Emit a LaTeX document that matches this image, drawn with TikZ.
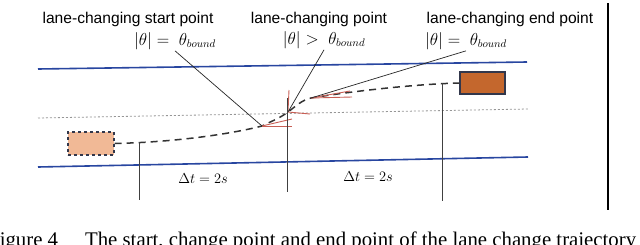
\documentclass[tikz,border=0pt]{standalone}
\usepackage{amsmath}
\usepackage{xcolor}
\usepackage{fontspec}
\usepackage{tikz}
\usetikzlibrary{arrows.meta, positioning}
\newfontfamily\labelfont{Liberation Sans}
\newfontfamily\capfont{Liberation Serif}
\definecolor{roadBlue}{RGB}{40,70,160}
\definecolor{carOrange}{RGB}{196,103,45}
\definecolor{carPeach}{RGB}{241,185,150}
\definecolor{carBorder}{RGB}{50,55,75}
\definecolor{tangentRed}{RGB}{200,95,85}
\definecolor{markGray}{RGB}{150,150,150}

\begin{document}
\begin{tikzpicture}[x=1pt, y=-1pt,
titlelabel/.style={inner sep=1pt, font=\labelfont\fontsize{15.6}{17}\selectfont},
mathlabel/.style={inner sep=1pt, font=\fontsize{16}{18}\selectfont},
dtlabel/.style={inner sep=1pt, font=\fontsize{13.5}{15}\selectfont},
road/.style={draw=roadBlue, line width=1.6pt},
lanemark/.style={draw=markGray, line width=0.8pt, dash pattern=on 2pt off 2pt},
car/.style={rectangle, draw=carBorder, line width=1.4pt, inner sep=0pt},
leader/.style={draw=black!85, line width=0.7pt},
tangent/.style={draw=tangentRed, line width=0.9pt},
trajectory/.style={draw=black!80, line width=1.5pt, dash pattern=on 7pt off 5pt},
tick/.style={draw=black!75, line width=0.7pt}]

\path[use as bounding box, fill=white] (0,0) rectangle (640,244);

% road and lane marking
\draw[road] (38,69) -- (527,62);
\draw[road] (38,167) -- (528,157);
\draw[lanemark] (38,118) -- (528,109);

% vehicles
\node[car, fill=carPeach, dashed, minimum width=46pt, minimum height=23pt] (leftcar) at (91,143.5) {};
\node[car, fill=carOrange, minimum width=45pt, minimum height=22pt] (rightcar) at (482.5,83) {};

% key points of the trajectory
\coordinate (startpt) at (262,126);
\coordinate (changept) at (288,112);
\coordinate (endpt) at (311,98);

\draw[trajectory] (leftcar.east) .. controls (180,142) and (235,133) .. (startpt)
    .. controls (272,121) and (280,118) .. (changept)
    .. controls (296,106) and (302,100) .. (endpt)
    .. controls (360,90) and (420,84) .. (rightcar.west);

% tangent directions
\draw[tangent] (startpt) -- ++(30,-7);
\draw[tangent] (startpt) -- ++(30,0);
\draw[tangent] (changept) -- ++(22,2);
\draw[tangent] (changept) -- ++(1,-22);
\draw[tangent] (endpt) -- ++(41,-1);
\draw[tangent] (endpt) -- ++(39,-7);

% labels
\node[titlelabel] (startlbl) at (128,19) {lane-changing start point};
\node[titlelabel] (changelbl) at (319,19) {lane-changing point};
\node[titlelabel] (endlbl) at (510,19) {lane-changing end point};
\node[mathlabel] (startmath) at (175,41) {$|\theta| =\ \theta_{bound}$};
\node[mathlabel] (changemath) at (324,40) {$|\theta| >\ \theta_{bound}$};
\node[mathlabel] (endmath) at (466,41) {$|\theta| =\ \theta_{bound}$};

\draw[leader] (startmath.south) -- (startpt);
\draw[leader] (changemath.south) -- (changept);
\draw[leader] (endmath.south) -- (endpt);

% time marks
\foreach \x/\a/\b in {139/142/200, 287/98/192, 442/83/201}
    \draw[tick] (\x,\a) -- (\x,\b);
\node[dtlabel] (dtone) at (203,179) {$\Delta t = 2s$};
\node[dtlabel] (dttwo) at (368,177) {$\Delta t = 2s$};

\draw[black, line width=2.2pt] (608,3) -- (608,210);

\node[anchor=base west, inner sep=0pt, font=\capfont\fontsize{20.8}{24}\selectfont] (caption)
    at (-12,246) {Figure 4\hspace{27pt}The start, change point and end point of the lane change trajectory};
\end{tikzpicture}
\end{document}
